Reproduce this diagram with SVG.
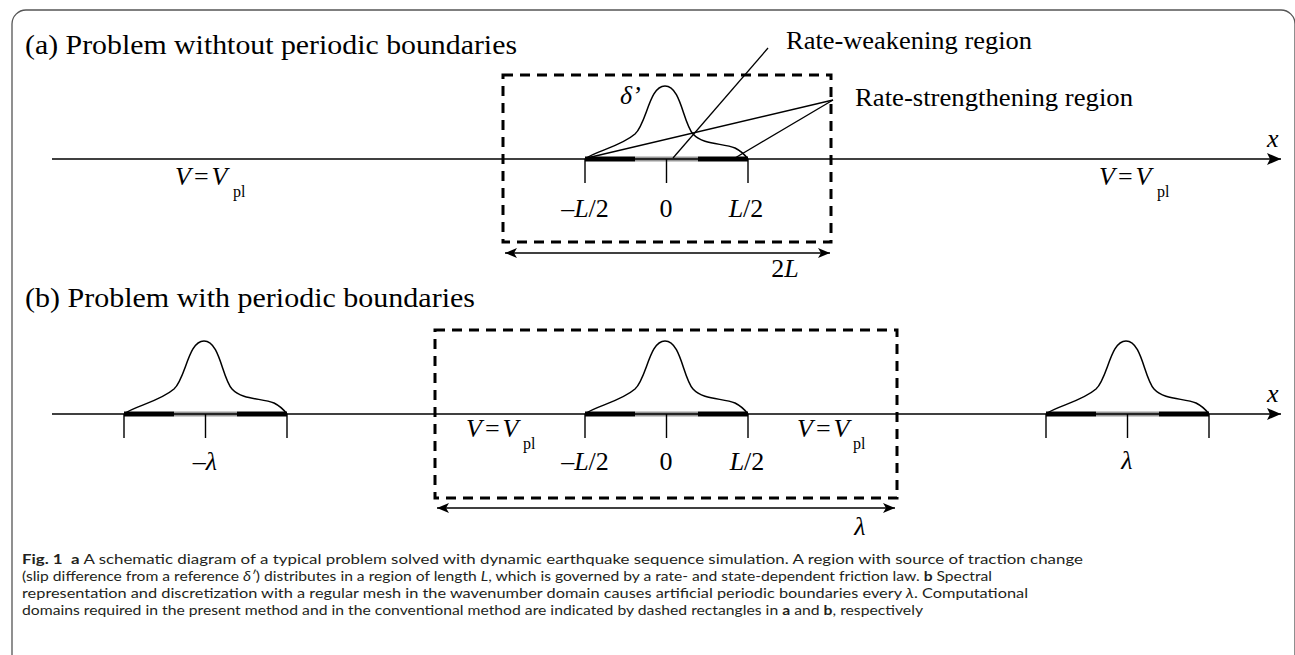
<svg xmlns="http://www.w3.org/2000/svg" xmlns:xlink="http://www.w3.org/1999/xlink" width="1295" height="655" viewBox="0 0 1295 655">
<style>
.serif{font-family:"Liberation Serif","Times New Roman",serif;fill:#000}
.title{font-size:27px}
.lbl{font-size:26px}
.it{font-style:italic}
.sub{font-size:16px}
.cap{font-family:Lato,"Liberation Sans",sans-serif;font-size:14px;fill:#231f20}
.b{font-weight:bold}
.axis{stroke:#000;stroke-width:1.5;fill:none}
.dash{stroke:#000;stroke-width:3;stroke-dasharray:10 7;fill:none}
.lead{stroke:#000;stroke-width:1.3;fill:none}
.dim{stroke:#000;stroke-width:1.4;fill:none}
.mid{text-anchor:middle}
</style>
<defs>
<marker id="axhead" markerUnits="userSpaceOnUse" viewBox="0 0 14 12" refX="14" refY="6" markerWidth="14" markerHeight="12" orient="auto">
<path d="M0,0 L14,6 L0,12 L3,6 Z" fill="#000"/>
</marker>
<marker id="dimhead" markerUnits="userSpaceOnUse" viewBox="0 0 12 10" refX="12" refY="5" markerWidth="12" markerHeight="10" orient="auto-start-reverse">
<path d="M0,0 L12,5 L0,10 L3,5 Z" fill="#000"/>
</marker>
<g id="fault">
<line x1="0" y1="0" x2="50" y2="0" stroke="#000" stroke-width="5"/>
<line x1="50" y1="0" x2="113" y2="0" stroke="#999" stroke-width="5"/>
<line x1="113" y1="0" x2="163" y2="0" stroke="#000" stroke-width="5"/>
<path d="M0,0 V24 M81.5,0 V24 M163,0 V24" stroke="#000" stroke-width="1.4" fill="none"/>
<path d="M0,0 C10,-8 35,-12 50,-25 C62,-36 64,-73 80,-73 C96,-73 98,-36 108,-25 C118,-14 138,-16 150,-11 C156,-8 160,-4 163,0" stroke="#000" stroke-width="1.5" fill="none"/>
</g>
</defs>

<g id="frame">
<path d="M12,655 V24 A14,14 0 0 1 26,10 H1281 A14,14 0 0 1 1295,24 V655" stroke="#555" stroke-width="1.3" fill="none"/>
</g>

<g id="title-a">
<text class="serif title" x="25" y="54" textLength="492" lengthAdjust="spacingAndGlyphs">(a) Problem withtout periodic boundaries</text>
</g>

<g id="domain-a">
<rect class="dash" x="503" y="75" width="328" height="167"/>
</g>

<g id="fault-a">
<use xlink:href="#fault" x="585" y="159"/>
<text class="serif lbl it" x="620" y="104">δ’</text>
<text class="serif lbl mid" x="585" y="217">–<tspan class="it">L</tspan>/2</text>
<text class="serif lbl mid" x="666" y="217">0</text>
<text class="serif lbl mid" x="746" y="217"><tspan class="it">L</tspan>/2</text>
</g>

<g id="label-weakening">
<text class="serif lbl" x="786" y="49" textLength="246" lengthAdjust="spacingAndGlyphs">Rate-weakening region</text>
</g>
<g id="label-strengthening">
<text class="serif lbl" x="855" y="106" textLength="278" lengthAdjust="spacingAndGlyphs">Rate-strengthening region</text>
</g>

<g id="vpl-a-left"><text class="serif lbl" x="175" y="185"><tspan class="it">V</tspan><tspan dx="3">=</tspan><tspan class="it" dx="3">V</tspan><tspan class="sub" x="233" y="197">pl</tspan></text></g>
<g id="vpl-a-right"><text class="serif lbl" x="1099" y="185"><tspan class="it">V</tspan><tspan dx="3">=</tspan><tspan class="it" dx="3">V</tspan><tspan class="sub" x="1157" y="197">pl</tspan></text></g>
<g id="x-a"><text class="serif lbl it" x="1267" y="147">x</text></g>
<g id="dim-a-label"><text class="serif lbl mid" x="785" y="277">2<tspan class="it">L</tspan></text></g>

<g id="title-b">
<text class="serif title" x="25" y="307" textLength="450" lengthAdjust="spacingAndGlyphs">(b) Problem with periodic boundaries</text>
</g>

<g id="domain-b">
<rect class="dash" x="435" y="330" width="462" height="168"/>
</g>

<g id="fault-b-left">
<use xlink:href="#fault" x="124" y="414"/>
<text class="serif lbl mid" x="205" y="470">–<tspan class="it">λ</tspan></text>
</g>
<g id="fault-b-center">
<use xlink:href="#fault" x="585" y="414"/>
<text class="serif lbl mid" x="585" y="470">–<tspan class="it">L</tspan>/2</text>
<text class="serif lbl mid" x="666" y="470">0</text>
<text class="serif lbl mid" x="747" y="470"><tspan class="it">L</tspan>/2</text>
</g>
<g id="fault-b-right">
<use xlink:href="#fault" x="1046" y="414"/>
<text class="serif lbl mid it" x="1127" y="469">λ</text>
</g>

<g id="vpl-b-left"><text class="serif lbl" x="466" y="437"><tspan class="it">V</tspan><tspan dx="3">=</tspan><tspan class="it" dx="3">V</tspan><tspan class="sub" x="523" y="449">pl</tspan></text></g>
<g id="vpl-b-right"><text class="serif lbl" x="797" y="437"><tspan class="it">V</tspan><tspan dx="3">=</tspan><tspan class="it" dx="3">V</tspan><tspan class="sub" x="853" y="449">pl</tspan></text></g>
<g id="x-b"><text class="serif lbl it" x="1267" y="402">x</text></g>
<g id="dim-b-label"><text class="serif lbl mid it" x="860" y="535">λ</text></g>

<g id="connectors">
<line class="axis" x1="52" y1="159" x2="1281" y2="159" marker-end="url(#axhead)"/>
<line class="axis" x1="52" y1="414" x2="1281" y2="414" marker-end="url(#axhead)"/>
<line class="lead" x1="673" y1="158" x2="768" y2="48"/>
<line class="lead" x1="587" y1="158" x2="833" y2="100"/>
<line class="lead" x1="735" y1="158" x2="833" y2="100"/>
<line class="dim" x1="505" y1="253" x2="830" y2="253" marker-start="url(#dimhead)" marker-end="url(#dimhead)"/>
<line class="dim" x1="437" y1="508" x2="895" y2="508" marker-start="url(#dimhead)" marker-end="url(#dimhead)"/>
</g>

<g id="caption">
<text class="cap" x="22" y="564" textLength="1061" lengthAdjust="spacingAndGlyphs"><tspan class="b">Fig. 1</tspan><tspan class="b" dx="7">a</tspan> A schematic diagram of a typical problem solved with dynamic earthquake sequence simulation. A region with source of traction change</text>
<text class="cap" x="22" y="581" textLength="970" lengthAdjust="spacingAndGlyphs">(slip difference from a reference <tspan class="it">δ′</tspan>) distributes in a region of length <tspan class="it">L</tspan>, which is governed by a rate- and state-dependent friction law. <tspan class="b">b</tspan> Spectral</text>
<text class="cap" x="22" y="598" textLength="1006" lengthAdjust="spacingAndGlyphs">representation and discretization with a regular mesh in the wavenumber domain causes artificial periodic boundaries every <tspan class="it">λ</tspan>. Computational</text>
<text class="cap" x="22" y="615" textLength="901" lengthAdjust="spacingAndGlyphs">domains required in the present method and in the conventional method are indicated by dashed rectangles in <tspan class="b">a</tspan> and <tspan class="b">b</tspan>, respectively</text>
</g>
</svg>
